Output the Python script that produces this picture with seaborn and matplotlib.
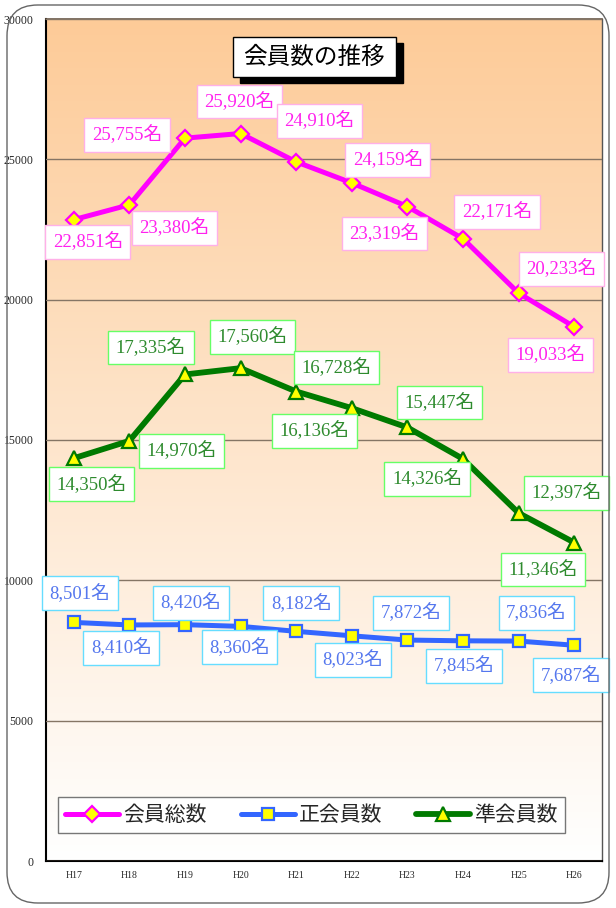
import numpy as np
import pandas as pd
import seaborn as sns
import matplotlib.pyplot as plt
from matplotlib.patches import FancyBboxPatch, Rectangle

# data
years = ['H17', 'H18', 'H19', 'H20', 'H21', 'H22', 'H23', 'H24', 'H25', 'H26']
total_members = [22851, 23380, 25755, 25920, 24910, 24159, 23319, 22171, 20233, 19033]
regular_members = [8501, 8410, 8420, 8360, 8182, 8023, 7872, 7845, 7836, 7687]
associate_members = [14350, 14970, 17335, 17560, 16728, 16136, 15447, 14326, 12397, 11346]
series_names = ['会員総数', '正会員数', '準会員数']

# label offsets in pixels (dx, dy; dy positive = up)
total_offsets = [(14, -22), (45, -23), (-58, 3), (-1, 32), (23, 41),
                 (36, 23), (-23, -27), (34, 27), (43, 24), (-24, -28)]
regular_offsets = [(6, 29), (-8, -23), (6, 22), (-1, -21), (5, 28),
                   (1, -24), (4, 27), (1, -25), (18, 28), (-3, -30)]
associate_offsets = [(18, -26), (52, -10), (-34, 27), (12, 31), (40, 24),
                     (-37, -23), (32, 25), (-36, -20), (48, 20), (-31, -27)]

sns.set_style('white')
plt.rcParams['font.family'] = ['Liberation Serif', 'Noto Sans CJK JP']

fig = plt.figure(figsize=(6.16, 9.08), dpi=100)
ax = fig.add_axes([46 / 616, 47 / 908, 556 / 616, 842 / 908])

# outer rounded frame
frame = FancyBboxPatch((7 / 616, 5 / 908), 602 / 616, 898 / 908,
                       boxstyle='round,pad=0,rounding_size=0.05',
                       transform=fig.transFigure, fill=False,
                       edgecolor='#666666', linewidth=1.0, mutation_aspect=616 / 908)
fig.patches.append(frame)

# gradient background
grad = np.linspace(0, 1, 256)[:, None]
top = np.array([253, 203, 152]) / 255
bottom = np.array([255, 255, 255]) / 255
img = top[None, None, :] * (1 - grad[..., None]) + bottom[None, None, :] * grad[..., None]
ax.imshow(img, extent=[-0.5, 9.5, 0, 30000], aspect='auto', origin='upper', zorder=0)

x = np.arange(len(years))
df = pd.DataFrame({'x': x, 'total': total_members, 'regular': regular_members,
                   'associate': associate_members})

styles = [
    ('total', series_names[0], '#FF00FF', 'D', 8, 3.6, total_members, total_offsets,
     '#FF22EE', '#FFB0E8'),
    ('regular', series_names[1], '#3366FF', 's', 9, 3.6, regular_members, regular_offsets,
     '#5577EE', '#66DDFF'),
    ('associate', series_names[2], '#007A00', '^', 10, 4.2, associate_members, associate_offsets,
     '#2E8B2E', '#66FF66'),
]

for col, name, color, marker, ms, lw, vals, offs, tcolor, ecolor in styles:
    sns.lineplot(data=df, x='x', y=col, ax=ax, color=color, linewidth=lw, marker=marker,
                 markersize=ms, markerfacecolor='#FFFF00', markeredgecolor=color,
                 markeredgewidth=1.6, label=name, zorder=3)
    for xi, v, (dx, dy) in zip(x, vals, offs):
        ax.annotate(f'{v:,}名', (xi, v), xytext=(dx, dy), textcoords='offset pixels',
                    ha='center', va='center', fontsize=13.5, color=tcolor, zorder=5,
                    bbox=dict(boxstyle='square,pad=0.4', facecolor='white',
                              edgecolor=ecolor, linewidth=1.0))

ax.set_xlim(-0.5, 9.5)
ax.set_ylim(0, 30000)
ax.set_yticks(range(0, 30001, 5000))
ax.set_yticklabels([str(v) for v in range(0, 30001, 5000)], fontsize=8.5)
ax.set_xticks(x)
ax.set_xticklabels(years, fontsize=7)
ax.set_xticks(np.arange(0.5, 9.5, 1), minor=True)
ax.tick_params(axis='x', which='major', length=0, pad=7)
ax.tick_params(axis='x', which='minor', length=3, direction='in', color='black')
ax.tick_params(axis='y', length=0, pad=9)
ax.grid(axis='y', color='#857565', linewidth=1.0, zorder=1)
ax.set_axisbelow(False)
for line in ax.get_ygridlines():
    line.set_zorder(1)
ax.set_xlabel('')
ax.set_ylabel('')

ax.spines['left'].set_color('black')
ax.spines['left'].set_linewidth(1.5)
ax.spines['bottom'].set_color('black')
ax.spines['bottom'].set_linewidth(1.5)
ax.spines['top'].set_color('#6b5a4a')
ax.spines['top'].set_linewidth(1.2)
ax.spines['right'].set_color('#555555')
ax.spines['right'].set_linewidth(1.0)

leg = ax.legend(loc='lower left', bbox_to_anchor=(0.0216, 0.033, 0.912, 0.046),
                mode='expand', ncol=3, handlelength=2.6, handletextpad=0.2,
                columnspacing=1.0, fancybox=False, framealpha=1, borderpad=0.35,
                borderaxespad=0, prop={'family': ['Noto Sans CJK JP'], 'size': 15})
leg.get_frame().set_edgecolor('#777777')
leg.get_frame().set_linewidth(1.0)
leg.set_zorder(6)

# title box with shadow
ax.add_patch(Rectangle((0.3489, 0.9240), 0.2932, 0.0475, transform=ax.transAxes,
                       facecolor='black', edgecolor='black', zorder=6.5))
ax.add_patch(Rectangle((0.3363, 0.9311), 0.2932, 0.0475, transform=ax.transAxes,
                       facecolor='white', edgecolor='black', linewidth=1.0, zorder=7))
ax.text(0.4829, 0.9548, '会員数の推移', transform=ax.transAxes, ha='center', va='center',
        fontsize=17, color='black', family=['Noto Sans CJK JP'], zorder=8)

fig.savefig('out.png', dpi=100)
